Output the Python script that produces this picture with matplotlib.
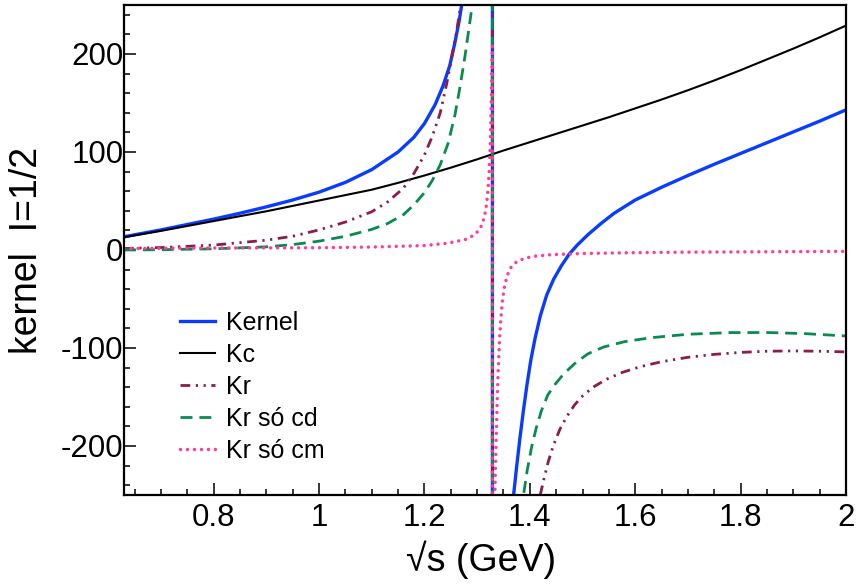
import matplotlib
matplotlib.use("Agg")
import matplotlib.pyplot as plt
from matplotlib.ticker import MultipleLocator, FuncFormatter

plt.rcParams['font.family'] = ['Liberation Sans', 'DejaVu Sans']
plt.rcParams['axes.unicode_minus'] = False

# values (off-chart points only where a curve leaves the frame)
x_kc = [0.63, 0.7, 0.8, 0.9, 1.0, 1.05, 1.1, 1.15, 1.2, 1.25, 1.3, 1.35, 1.4, 1.45, 1.5,
        1.55, 1.6, 1.65, 1.7, 1.75, 1.8, 1.85, 1.9, 1.95, 2.0]
y_kc = [13, 19.5, 29.5, 39.5, 50.5, 56, 61.5, 68.5, 76, 84, 92.5, 101.5, 110, 118.5, 127,
        135.5, 144.5, 153.5, 163, 173, 183.5, 194.5, 205.5, 217, 229]

x_kernel = [0.63, 0.7, 0.75, 0.8, 0.85, 0.9, 0.95, 1.0, 1.05, 1.1, 1.15, 1.18, 1.2, 1.22,
            1.235, 1.248, 1.258, 1.266, 1.273, 1.285, 1.3, 1.329,
            1.329, 1.355, 1.369, 1.375, 1.381, 1.388, 1.395, 1.402, 1.41, 1.42, 1.432,
            1.445, 1.46, 1.475, 1.49, 1.51, 1.535, 1.56, 1.6, 1.65, 1.7, 1.75, 1.8,
            1.85, 1.9, 1.95, 2.0]
y_kernel = [13.5, 20.5, 26, 31.5, 37.5, 44, 51, 59, 69, 82, 100, 115, 129, 148,
            167, 188, 212, 234, 258, 340, 520, 5000,
            -5000, -420, -251, -221, -193, -163, -136, -112, -90, -67, -46,
            -30, -16, -4, 5, 15.5, 27, 37.5, 51, 64, 76, 87.5, 98.5,
            109.5, 120.5, 131.5, 143]

x_kr = [0.63, 0.7, 0.8, 0.9, 0.95, 1.0, 1.05, 1.1, 1.13, 1.16, 1.18, 1.2, 1.215, 1.23,
        1.242, 1.252, 1.26, 1.266, 1.272, 1.285, 1.329,
        1.329, 1.41, 1.4193, 1.427, 1.435, 1.445, 1.457, 1.47, 1.485, 1.5, 1.52, 1.545,
        1.575, 1.61, 1.65, 1.7, 1.75, 1.8, 1.85, 1.9, 1.95, 2.0]
y_kr = [1.5, 2.5, 5, 10, 14, 20.5, 28.5, 39, 49, 63, 78, 97, 116, 140,
        169, 197, 220, 240, 262, 350, 5000,
        -5000, -275, -251, -233, -216, -199, -183, -170, -158, -149, -140, -132,
        -125, -119, -114, -109.5, -106.5, -104.5, -103.3, -103, -103.3, -104]

x_cd = [0.63, 0.7, 0.8, 0.9, 0.95, 1.0, 1.05, 1.1, 1.13, 1.16, 1.18, 1.2, 1.215, 1.23,
        1.245, 1.258, 1.268, 1.277, 1.285, 1.292, 1.30, 1.329,
        1.329, 1.38, 1.3877, 1.395, 1.403, 1.412, 1.422, 1.434, 1.448, 1.465, 1.485,
        1.51, 1.54, 1.58, 1.63, 1.7, 1.78, 1.85, 1.92, 2.0]
y_cd = [0, 0.3, 1.2, 3.2, 5.5, 9, 14, 21, 27, 36, 46, 58.5, 71, 87,
        109, 138, 168, 198, 228, 255, 300, 5000,
        -5000, -285, -251, -225, -202, -182, -164, -148, -137, -126, -116,
        -106, -99, -93.5, -89.5, -86, -84.3, -84.2, -85.3, -87.7]

x_cm = [0.63, 0.8, 1.0, 1.1, 1.2, 1.245, 1.28, 1.295, 1.305, 1.31, 1.3147, 1.318, 1.321,
        1.323, 1.325, 1.327, 1.329,
        1.329, 1.332, 1.3336, 1.336, 1.338, 1.34, 1.3425, 1.345, 1.348, 1.352, 1.357,
        1.364, 1.375, 1.39, 1.41, 1.44, 1.5, 1.6, 1.7, 1.85, 2.0]
y_cm = [1.5, 2, 2.3, 3, 4.5, 7, 11, 15.5, 21, 27, 36, 47, 64,
        82, 110, 155, 208,
        -5000, -420, -251, -195, -155, -122, -92, -70, -52, -37, -26,
        -18, -12, -8.5, -6.3, -4.8, -3.6, -2.7, -2.2, -1.8, -1.4]

fig = plt.figure(figsize=(8.59, 5.86), dpi=100)
ax = fig.add_axes([0.1444, 0.1553, 0.8405, 0.8362])

ax.plot(x_kernel, y_kernel, color='#0a3cff', lw=2.4, label='Kernel')
ax.plot(x_kc, y_kc, color='black', lw=1.5, label='Kc')
ax.plot(x_kr, y_kr, color='#8c1b4e', lw=2, dashes=(3.5, 2, 0.8, 2, 0.8, 2), label='Kr')
ax.plot(x_cd, y_cd, color='#0b8a4f', lw=2, dashes=(4.3, 2.5), label='Kr só cd')
ax.plot(x_cm, y_cm, color='#ff3c9a', lw=2.5, dashes=(0.01, 2), dash_capstyle='round',
        label='Kr só cm')

ax.set_xlim(0.63, 2.0)
ax.set_ylim(-250, 250)

ax.xaxis.set_major_locator(MultipleLocator(0.2))
ax.xaxis.set_minor_locator(MultipleLocator(0.05))
ax.yaxis.set_major_locator(MultipleLocator(100))
ax.yaxis.set_minor_locator(MultipleLocator(20))
ax.xaxis.set_major_formatter(FuncFormatter(lambda v, p: '%g' % round(v, 2)))
ax.yaxis.set_major_formatter(FuncFormatter(lambda v, p: '%d' % round(v)))

ax.tick_params(which='both', direction='in', top=False, right=False, width=1.1)
ax.tick_params(which='major', length=8.5, labelsize=22.5)
ax.tick_params(which='minor', length=4.5)
ax.tick_params(axis='x', which='major', pad=6)
ax.tick_params(axis='y', which='major', pad=0.5)
for s in ax.spines.values():
    s.set_linewidth(1.6)

ax.set_xlabel('√s (GeV)', fontsize=27)
ax.xaxis.set_label_coords(0.494, -0.092)
ax.set_ylabel('kernel  I=1/2', fontsize=27)
ax.yaxis.set_label_coords(-0.11, 0.5)

ax.legend(loc='upper left', bbox_to_anchor=(0.0776, 0.375), frameon=False, fontsize=18,
          handlelength=1.4, handletextpad=0.42, labelspacing=0.32, borderpad=0,
          borderaxespad=0)

fig.savefig('out.png', dpi=100)
